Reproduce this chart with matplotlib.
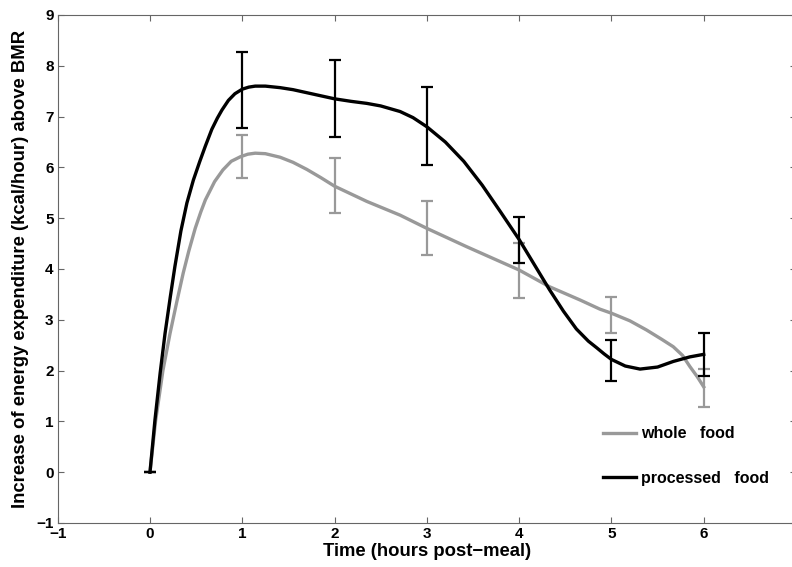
import matplotlib
matplotlib.use("Agg")
import matplotlib.pyplot as plt

plt.rcParams['font.family'] = ['Liberation Sans', 'DejaVu Sans']
plt.rcParams['font.weight'] = 'bold'

# measured points (hours)
hours = [0, 1, 2, 3, 4, 5, 6]

whole_mean = [0, 6.215, 5.645, 4.805, 3.965, 3.10, 1.665]
whole_err = [0, 0.425, 0.545, 0.525, 0.545, 0.35, 0.375]
processed_mean = [0, 7.525, 7.35, 6.815, 4.57, 2.20, 2.32]
processed_err = [0, 0.745, 0.76, 0.765, 0.46, 0.40, 0.43]

# smooth fitted curves
whole_curve_x = [0, 0.06, 0.14, 0.217, 0.29, 0.36, 0.42, 0.49, 0.55, 0.60, 0.70,
                 0.79, 0.88, 0.98, 1.06, 1.14, 1.25, 1.41, 1.55, 1.70, 1.85, 2.0,
                 2.35, 2.71, 3.0, 3.43, 4.0, 4.33, 4.66, 4.875, 5.0, 5.2, 5.38,
                 5.55, 5.67, 5.77, 5.85, 5.93, 6.0]
whole_curve_y = [0, 1.0, 2.0, 2.73, 3.35, 3.92, 4.35, 4.80, 5.12, 5.36, 5.72,
                 5.95, 6.12, 6.21, 6.26, 6.28, 6.27, 6.20, 6.10, 5.96, 5.80, 5.63,
                 5.33, 5.06, 4.80, 4.44, 3.98, 3.65, 3.39, 3.21, 3.13, 2.98, 2.80,
                 2.61, 2.47, 2.30, 2.08, 1.88, 1.68]
processed_curve_x = [0, 0.054, 0.11, 0.163, 0.22, 0.27, 0.335, 0.40, 0.47, 0.54,
                     0.60, 0.67, 0.73, 0.78, 0.85, 0.92, 1.0, 1.07, 1.14, 1.25,
                     1.41, 1.55, 1.70, 1.85, 2.0, 2.18, 2.35, 2.5, 2.71, 2.85,
                     3.0, 3.2, 3.4, 3.6, 3.8, 4.0, 4.15, 4.33, 4.48, 4.62, 4.75,
                     4.84, 4.92, 5.0, 5.15, 5.31, 5.5, 5.67, 5.85, 6.0]
processed_curve_y = [0, 1.03, 1.95, 2.73, 3.45, 4.05, 4.75, 5.30, 5.75, 6.12,
                     6.42, 6.75, 6.97, 7.13, 7.32, 7.45, 7.54, 7.58, 7.60, 7.60,
                     7.57, 7.53, 7.47, 7.41, 7.35, 7.30, 7.26, 7.21, 7.10, 6.98,
                     6.80, 6.50, 6.12, 5.65, 5.12, 4.58, 4.13, 3.59, 3.17, 2.82, 2.58,
                     2.45, 2.33, 2.22, 2.09, 2.03, 2.07, 2.18, 2.27, 2.32]

grey = '#999999'

fig = plt.figure(figsize=(7.92, 5.67), dpi=100)
ax = fig.add_axes([57.7 / 792, 1 - 523 / 567, 738.3 / 792, 508 / 567])

ax.errorbar(hours, whole_mean, yerr=whole_err, fmt='none', ecolor=grey,
            elinewidth=1.6, capsize=4.5, capthick=1.6)
ax.plot(whole_curve_x, whole_curve_y, color=grey, lw=2.4, label='whole   food',
        solid_joinstyle='round')
ax.errorbar(hours, processed_mean, yerr=processed_err, fmt='none', ecolor='black',
            elinewidth=1.6, capsize=4.5, capthick=1.6)
ax.plot(processed_curve_x, processed_curve_y, color='black', lw=2.4,
        label='processed   food', solid_joinstyle='round')

ax.set_xlim(-1, 7)
ax.set_ylim(-1, 9)
ax.set_xticks(range(-1, 7))
ax.set_yticks(range(-1, 10))
ax.tick_params(direction='in', length=4, width=0.8, color='#666666',
               top=True, right=True, labelsize=11, pad=3)
for s in ax.spines.values():
    s.set_color('#666666')
    s.set_linewidth(0.8)

ax.set_xlabel('Time (hours post\u2212meal)', fontsize=13.3, fontweight='bold', labelpad=1)
ax.set_ylabel('Increase of energy expenditure (kcal/hour) above BMR', fontsize=13.3,
              fontweight='bold', labelpad=5)

ax.legend(loc='upper left', bbox_to_anchor=(0.738, 0.19), bbox_transform=ax.transAxes,
          frameon=False, fontsize=11.5, handlelength=2.1, handletextpad=0.3,
          labelspacing=1.85, borderpad=0, borderaxespad=0)

fig.savefig('out.png', dpi=100)
